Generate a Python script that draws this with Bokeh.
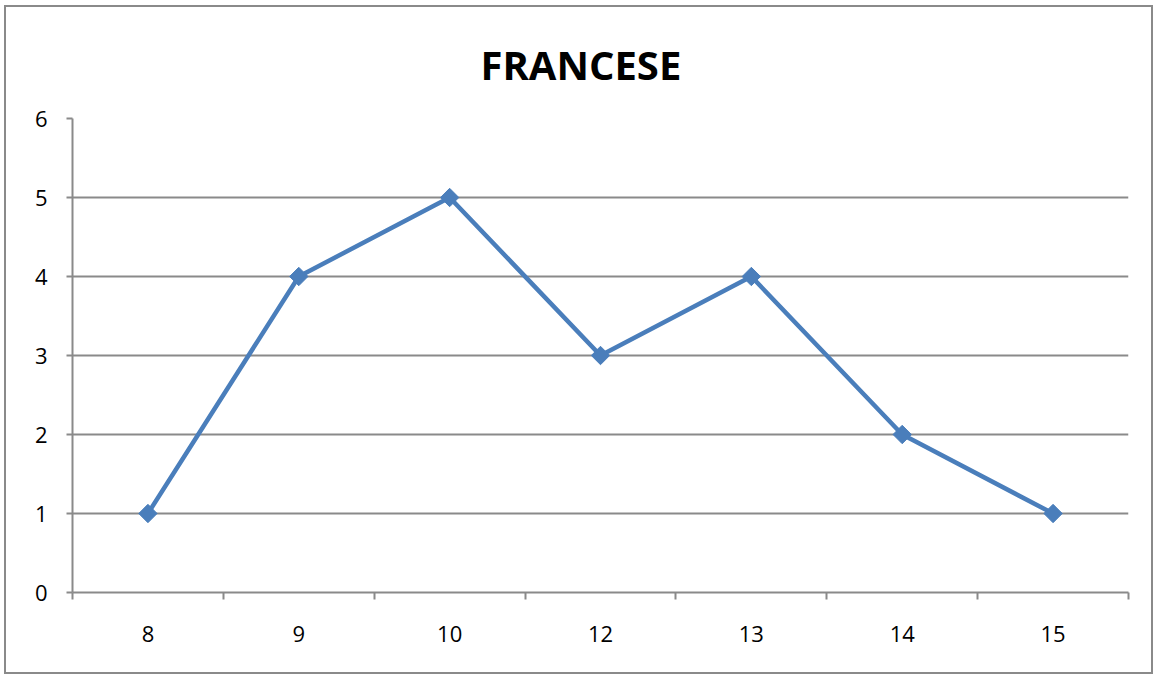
import math
from bokeh.plotting import figure
from bokeh.models import Range1d, FixedTicker, Title
from bokeh.embed import file_html
from bokeh.resources import INLINE

categories = ["8", "9", "10", "12", "13", "14", "15"]
values = [1, 4, 5, 3, 4, 2, 1]
y_ticks = [0, 1, 2, 3, 4, 5, 6]

FONT = "Open Sans"
GRAY = "#8a8a8a"
BLUE = "#4a7ebb"

xs = [i + 0.5 for i in range(len(categories))]

p = figure(width=1149, height=669, output_backend="svg", toolbar_location=None,
           x_range=Range1d(0, len(categories)), y_range=Range1d(0, 6),
           min_border_left=66, min_border_right=27, min_border_top=111, min_border_bottom=84)
p.styles = {"border": f"2px solid {GRAY}", "margin-left": "4px", "margin-top": "5px"}
p.outline_line_color = None
p.background_fill_color = "white"

p.title = Title(text="FRANCESE", align="left", text_font=FONT, text_font_size="40px",
                text_font_style="bold", text_color="black", text_line_height=1.0,
                standoff=54, offset=408)

# x axis
p.xaxis.ticker = FixedTicker(ticks=xs, minor_ticks=list(range(len(categories) + 1)))
p.xaxis.major_label_overrides = {x: c for x, c in zip(xs, categories)}
p.xaxis.major_tick_line_color = None
p.xaxis.minor_tick_line_color = GRAY
p.xaxis.minor_tick_line_width = 2
p.xaxis.minor_tick_out = 7
p.xaxis.minor_tick_in = 0
p.xaxis.axis_line_color = GRAY
p.xaxis.axis_line_width = 2
p.xaxis.major_label_text_font = FONT
p.xaxis.major_label_text_font_size = "22px"
p.xaxis.major_label_text_color = "black"
p.xaxis.major_label_standoff = 26

# y axis
p.yaxis.ticker = FixedTicker(ticks=y_ticks)
p.yaxis.minor_tick_line_color = None
p.yaxis.major_tick_line_color = GRAY
p.yaxis.major_tick_line_width = 2
p.yaxis.major_tick_out = 6
p.yaxis.major_tick_in = 0
p.yaxis.axis_line_color = GRAY
p.yaxis.axis_line_width = 2
p.yaxis.major_label_text_font = FONT
p.yaxis.major_label_text_font_size = "22px"
p.yaxis.major_label_text_color = "black"
p.yaxis.major_label_standoff = 19

p.xgrid.grid_line_color = None
p.ygrid.grid_line_color = GRAY
p.ygrid.grid_line_width = 2

p.line(xs, values, line_color=BLUE, line_width=4.5)
p.scatter(xs, values, marker="square", size=13, angle=math.pi / 4,
          fill_color=BLUE, line_color=BLUE)

open("out.html", "w").write(file_html(p, INLINE))
